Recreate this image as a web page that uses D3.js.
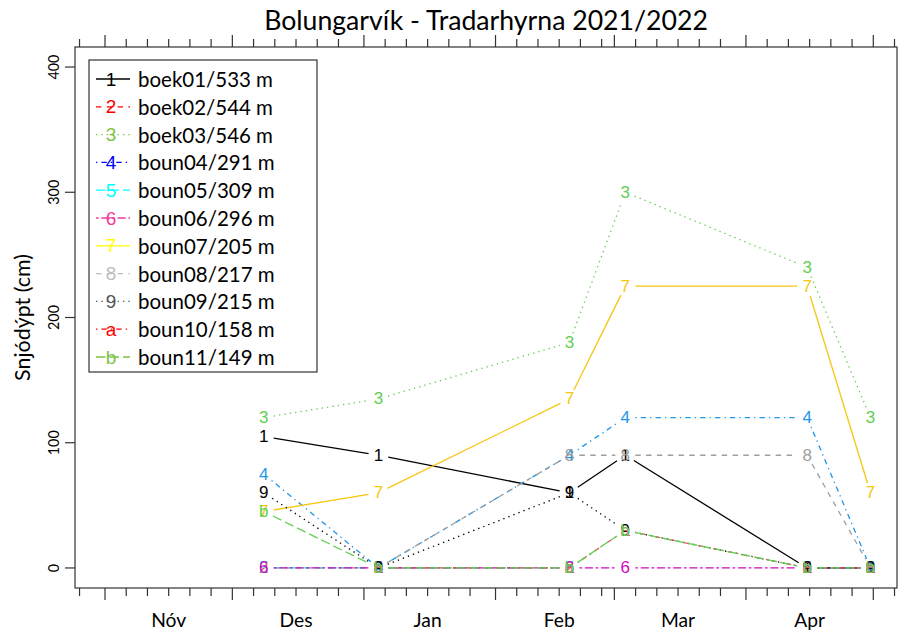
<!DOCTYPE html>
<html><head><meta charset="utf-8">
<script src="https://cdn.jsdelivr.net/npm/d3@7"></script>
<style>body{margin:0;background:#fff}</style>
</head><body>
<svg id="c" width="903" height="635" xmlns="http://www.w3.org/2000/svg"></svg>
<script>
// ---------------- data ----------------
const chartTitle = "Bolungarvík - Tradarhyrna 2021/2022";
const yTitle = "Snjódýpt (cm)";
const dates = ["2021-12-08T10:00Z","2022-01-04T10:00Z","2022-02-18T10:00Z","2022-03-03T14:00Z","2022-04-15T10:00Z","2022-04-30T08:00Z"];
const seriesNames = ["boek01/533 m","boek02/544 m","boek03/546 m","boun04/291 m","boun05/309 m","boun06/296 m","boun07/205 m","boun08/217 m","boun09/215 m","boun10/158 m","boun11/149 m"];
const seriesSymbols = ["1","2","3","4","5","6","7","8","9","a","b"];
const s01 = [105, 90, 60, 90, 0, 0];
const s02 = [0, 0, 0, null, 0, 0];
const s03 = [120, 135, 180, 300, 240, 120];
const s04 = [75, 0, 90, 120, 120, 0];
const s05 = [0, 0, 0, null, 0, 0];
const s06 = [0, 0, 0, 0, 0, 0];
const s07 = [45, 60, 135, 225, 225, 60];
const s08 = [null, 0, 90, 90, 90, 0];
const s09 = [60, 0, 60, 30, 0, 0];
const s10 = [null, 0, 0, 30, 0, 0];
const s11 = [45, 0, 0, 30, 0, 0];
const seriesValues = [s01,s02,s03,s04,s05,s06,s07,s08,s09,s10,s11];
const yTicks = [0, 100, 200, 300, 400];
const monthLabels = ["Nóv","Des","Jan","Feb","Mar","Apr"];
const monthStarts = ["2021-11-01","2021-12-01","2022-01-01","2022-02-01","2022-03-01","2022-04-01"];
const minorTickDays = [1, 6, 11, 16, 21, 26];

// ---------------- styles ----------------
const plotColors = ["#000000","#DF536B","#61D04F","#2297E6","#28E2E5","#CD0BBC","#F5C710","#9E9E9E","#000000","#DF536B","#61D04F"];
const legendColors = ["#000000","#FF0000","#7CC444","#0000FF","#00FFFF","#F23C9E","#FFFF00","#BEBEBE","#555555","#FF0000","#7CC444"];
const ltyPatterns = [null,[4,4],[1,3],[1,3,4,3],[7,3],[2,2,6,2]];
const dashUnit = 1.35;
function dashFor(i){ const p = ltyPatterns[i % 6]; return p ? p.map(v=>v*dashUnit).join(",") : null; }

const L = 75, R = 897, T = 47, B = 588;
const svg = d3.select("#c");
svg.append("rect").attr("width",903).attr("height",635).attr("fill","#fff");

const x = d3.scaleUtc()
  .domain([new Date("2021-11-01T00:00Z"), new Date("2022-05-01T00:00Z")])
  .range([105, 873.3]);
// extend domain to the box edges
x.domain([x.invert(L), x.invert(R)]).range([L, R]);
const y = d3.scaleLinear().domain([-16, 416]).range([B, T]);

const txtFont = "Lato, 'Open Sans', sans-serif";
const symFont = "'Liberation Sans', Arial, sans-serif";

function fit(sel, width){
  // set font-size so that text has given width
  const n = sel.node();
  const fs = parseFloat(sel.attr("font-size"));
  const w = n.getComputedTextLength();
  const nfs = fs * width / w;
  sel.attr("font-size", nfs);
  return nfs;
}

// title
const tt = svg.append("text").attr("x",(L+R)/2).attr("y",30).attr("text-anchor","middle")
  .attr("font-family",txtFont).attr("font-size",26).attr("fill","#000").text(chartTitle);
fit(tt, 444);

// box
svg.append("rect").attr("x",L).attr("y",T).attr("width",R-L).attr("height",B-T)
  .attr("fill","none").attr("stroke","#333").attr("stroke-width",1.2);

// x ticks (bottom and top)
const days = d3.utcDay.range(x.domain()[0], x.domain()[1]);
const tickDays = days.filter(d => minorTickDays.includes(d.getUTCDate()));
const gx = svg.append("g").attr("stroke","#333").attr("stroke-width",1.2);
tickDays.forEach(d => {
  const major = d.getUTCDate() === 1;
  const px = x(d);
  gx.append("line").attr("x1",px).attr("x2",px).attr("y1",B).attr("y2",B + (major ? 12 : 8));
  gx.append("line").attr("x1",px).attr("x2",px).attr("y1",T).attr("y2",T - (major ? 12 : 8));
});
// month labels
let mfs = null;
monthStarts.forEach((m,i) => {
  const c = d3.utcDay.offset(new Date(m + "T00:00Z"), 15);
  const t = svg.append("text").attr("x", x(c)).attr("y", 627).attr("text-anchor","middle")
    .attr("font-family",txtFont).attr("font-size", mfs || 19).attr("fill","#000").text(monthLabels[i]);
  if (mfs === null) mfs = fit(t, 35);
});

// y axis ticks + labels
let yfs = null;
yTicks.forEach(v => {
  gx.append("line").attr("x1",L).attr("x2",L-10).attr("y1",y(v)).attr("y2",y(v));
  const t = svg.append("text").attr("transform",`translate(53,${y(v)}) rotate(-90)`)
    .attr("text-anchor","middle").attr("dominant-baseline","central")
    .attr("font-family",txtFont).attr("font-size", yfs || 18).attr("fill","#000").text(v);
  if (yfs === null && String(v).length === 1) { /* sized from 400 later */ }
});
// size y labels from "400"
{
  const probe = svg.append("text").attr("font-family",txtFont).attr("font-size",18).text("400");
  const w = probe.node().getComputedTextLength(); probe.remove();
  const fs = 18 * 25 / w;
  svg.selectAll("text").filter(function(){ return this.getAttribute("transform") && this.getAttribute("transform").startsWith("translate(53"); })
    .attr("font-size", fs);
}
const yt = svg.append("text").attr("transform",`translate(22,${(T+B)/2}) rotate(-90)`)
  .attr("text-anchor","middle").attr("dominant-baseline","central")
  .attr("font-family",txtFont).attr("font-size",19).attr("fill","#000").text(yTitle);
fit(yt, 127);

// series
const gap = 10;
const dts = dates.map(d => new Date(d));
seriesValues.forEach((vals, i) => {
  const pts = vals.map((v,j) => v === null ? null : [x(dts[j]), y(v)]);
  const g = svg.append("g");
  for (let j = 0; j < pts.length - 1; j++) {
    const a = pts[j], b = pts[j+1];
    if (!a || !b) continue;
    const dx = b[0]-a[0], dy = b[1]-a[1], len = Math.hypot(dx,dy);
    if (len <= 2*gap) continue;
    const ux = dx/len, uy = dy/len;
    const ln = g.append("line")
      .attr("x1", a[0]+ux*gap).attr("y1", a[1]+uy*gap)
      .attr("x2", b[0]-ux*gap).attr("y2", b[1]-uy*gap)
      .attr("stroke", plotColors[i]).attr("stroke-width", 1.3);
    const da = dashFor(i); if (da) ln.attr("stroke-dasharray", da);
  }
  pts.forEach(p => {
    if (!p) return;
    g.append("text").attr("x",p[0]).attr("y",p[1]).attr("text-anchor","middle")
      .attr("dominant-baseline","central").attr("font-family",symFont).attr("font-size",17)
      .attr("fill",plotColors[i]).text(seriesSymbols[i]);
  });
});

// legend
const lg = svg.append("g");
const rowH = 27.8, row0 = 79;
lg.append("rect").attr("x",89).attr("y",60).attr("width",228).attr("height",row0 - 60 + 10*rowH + 15)
  .attr("fill","#fff").attr("stroke","#333").attr("stroke-width",1.2);
let lfs = null;
seriesNames.forEach((nm,i) => {
  const cy = row0 + i*rowH;
  const ln = lg.append("line").attr("x1",96).attr("x2",130).attr("y1",cy).attr("y2",cy)
    .attr("stroke",legendColors[i]).attr("stroke-width",1.3);
  const da = dashFor(i); if (da) ln.attr("stroke-dasharray", da);
  lg.append("text").attr("x",111).attr("y",cy).attr("text-anchor","middle").attr("dominant-baseline","central")
    .attr("font-family",symFont).attr("font-size",19).attr("fill",legendColors[i]).text(seriesSymbols[i]);
  const t = lg.append("text").attr("x",138).attr("y",cy).attr("dominant-baseline","central")
    .attr("font-family",txtFont).attr("font-size", lfs || 20).attr("fill","#000").text(nm);
  if (lfs === null) lfs = fit(t, 135);
});
</script>
</body></html>
